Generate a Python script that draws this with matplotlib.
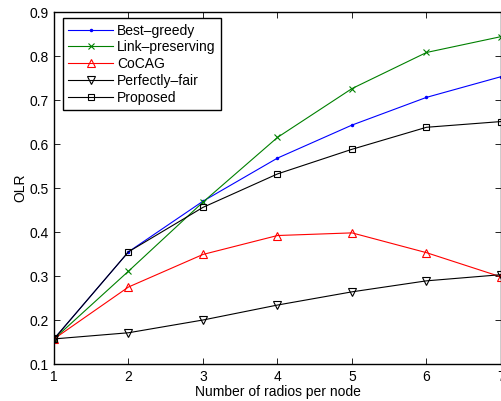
import matplotlib
matplotlib.use("Agg")
import matplotlib.pyplot as plt

plt.rcParams['font.family'] = ['Liberation Sans', 'DejaVu Sans']

radios = [1, 2, 3, 4, 5, 6, 7]
best_greedy = [0.157, 0.355, 0.470, 0.568, 0.643, 0.706, 0.753]
link_preserving = [0.157, 0.311, 0.468, 0.615, 0.726, 0.808, 0.844]
cocag = [0.157, 0.275, 0.349, 0.392, 0.398, 0.353, 0.298]
perfectly_fair = [0.157, 0.171, 0.200, 0.234, 0.264, 0.289, 0.303]
proposed = [0.157, 0.355, 0.456, 0.532, 0.588, 0.638, 0.651]

labels = ['Best–greedy', 'Link–preserving', 'CoCAG', 'Perfectly–fair', 'Proposed']
xticks = [1, 2, 3, 4, 5, 6, 7]
yticks = [0.1, 0.2, 0.3, 0.4, 0.5, 0.6, 0.7, 0.8, 0.9]

fig = plt.figure(figsize=(5.02, 4.01), dpi=100)
ax = fig.add_axes([54/502, 37/401, 447/502, 352/401])

lw = 0.8
fs = 10
ax.plot(radios, best_greedy, color='#0000ff', marker='.', markersize=3, lw=lw, label=labels[0])
ax.plot(radios, link_preserving, color='#008000', marker='x', markersize=5, mew=0.8, lw=lw, label=labels[1])
ax.plot(radios, cocag, color='#ff0000', marker='^', markersize=6, mfc='none', mew=0.8, lw=lw, label=labels[2])
ax.plot(radios, perfectly_fair, color='black', marker='v', markersize=6, mfc='none', mew=0.8, lw=lw, label=labels[3])
ax.plot(radios, proposed, color='black', marker='s', markersize=5, mfc='none', mew=0.8, lw=lw, label=labels[4])

ax.set_xlim(1, 7)
ax.set_ylim(0.1, 0.9)
ax.set_xticks(xticks)
ax.set_yticks(yticks)
ax.set_xticklabels([str(v) for v in xticks])
ax.set_yticklabels([f'{v:.1f}' for v in yticks])
ax.tick_params(direction='in', top=True, right=True, labelsize=fs, length=4, width=0.6, pad=4)
for s in ax.spines.values():
    s.set_linewidth(1.0)

ax.set_xlabel('Number of radios per node', fontsize=fs, labelpad=1)
ax.set_ylabel('OLR', fontsize=fs, labelpad=1)

leg = ax.legend(loc='upper left', bbox_to_anchor=(0.02, 0.983), borderaxespad=0,
                fontsize=fs, fancybox=False, framealpha=1, edgecolor='black',
                handlelength=3.2, handletextpad=0.3, labelspacing=0.2, borderpad=0.4)
leg.get_frame().set_linewidth(1.0)

fig.savefig('out.png', dpi=100)
